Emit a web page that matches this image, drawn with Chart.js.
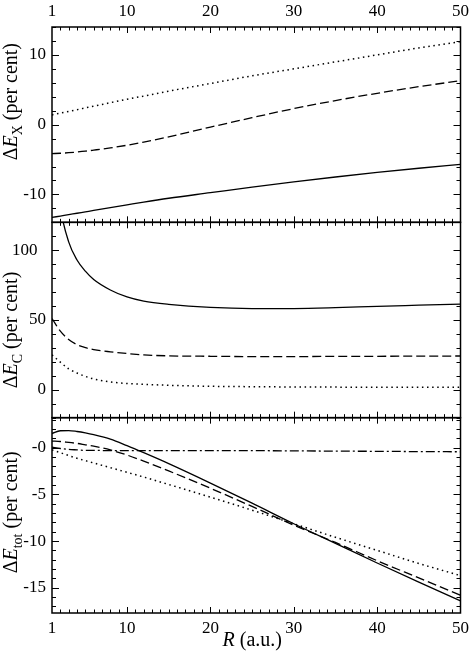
<!DOCTYPE html>
<html lang="en">
<head>
	<meta charset="UTF-8">
	<title>delta E</title>
	<script src="https://cdn.jsdelivr.net/npm/chart.js@4/dist/chart.umd.min.js"></script>
	<style>
		body{margin:0;background:#fff;}
		#c{display:block;}
	</style>
</head>
<body>
	<canvas id="c" width="474" height="660"></canvas>

	<script>

		// R grid (a.u.)
		var rGrid=[1,2,3,4,5,6,8,10,12,15,20,25,30,35,40,45,50];

		// exchange
		var exSolid=[-13.3,-13.1,-12.9,-12.7,-12.5,-12.3,-11.9,-11.5,-11.1,-10.55,-9.75,-8.95,-8.2,-7.5,-6.85,-6.25,-5.7];
		var exDashed=[-4.15,-4.1,-4.02,-3.92,-3.8,-3.65,-3.33,-2.95,-2.5,-1.75,-0.35,1.0,2.3,3.45,4.5,5.45,6.3];
		var exDotted=[1.4,1.65,1.9,2.15,2.4,2.65,3.15,3.65,4.1,4.8,5.9,7.0,8.0,9.0,10.0,11.0,11.9];

		// correlation
		var ecSolid=[185,131,106,93,85,79,71.5,66.5,63.5,61.2,59,58.2,58.2,58.8,59.8,60.6,61.4];
		var ecDashed=[51,42,36,32.3,30.2,28.8,27.2,26,25,24.3,24,23.8,23.8,23.9,24,24.1,24.2];
		var ecDotted=[25,19.8,15,12,9.6,7.8,5.6,4.5,3.9,3.2,2.5,2.2,2.0,1.9,1.8,1.8,1.8];

		// total
		var etSolid=[1.5,1.8,1.82,1.72,1.57,1.38,0.9,0.2,-0.55,-1.72,-3.8,-5.95,-8.15,-10.25,-12.35,-14.4,-16.4];
		var etDashed=[0.7,0.65,0.55,0.45,0.3,0.15,-0.25,-0.8,-1.45,-2.5,-4.35,-6.3,-8.3,-10.15,-12.1,-13.95,-15.8];
		var etDotted=[-0.25,-0.55,-0.85,-1.15,-1.4,-1.65,-2.15,-2.65,-3.15,-3.95,-5.3,-6.7,-8.15,-9.6,-11.0,-12.4,-13.7];
		var etDashDot=[0.05,-0.1,-0.2,-0.25,-0.3,-0.3,-0.33,-0.33,-0.33,-0.32,-0.32,-0.33,-0.35,-0.38,-0.4,-0.43,-0.45];

		// ticks
		var xTicks=[1,10,20,30,40,50];
		var exTicks=[-10,0,10];
		var exTickLabels=["-10","0","10"];
		var ecTicks=[0,50,100];
		var ecTickLabels=["0","50","100\u2002"];
		var etTicks=[-15,-10,-5,0];
		var etTickLabels=["-15","-10","-5","-0"];

		var SERIF='"Liberation Serif", "DejaVu Serif", serif';
		Chart.defaults.font.family=SERIF;
		Chart.defaults.font.size=17;
		Chart.defaults.color="#000";

		function pts(ys) {
			return rGrid.map(function(r,i){
				return {x:r,y:ys[i]};
			});
		}

		var styles={
			solid:{borderDash:[],borderWidth:1.3},
			dashed:{borderDash:[9,4],borderWidth:1.3},
			dotted:{borderDash:[1.5,3.6],borderWidth:1.5},
			dashdot:{borderDash:[9,3,2,3],borderWidth:1.3}
		};

		function ds(ys,axis,style) {
			return {
				data:pts(ys),
				yAxisID:axis,
				xAxisID:"x",
				borderColor:"#000",
				borderWidth:styles[style].borderWidth,
				borderDash:styles[style].borderDash,
				pointRadius:0,
				fill:false,
				cubicInterpolationMode:"monotone"
			};
		}

		function yAxis(min,max,ticks,labels,weight) {
			return {
				type:"linear",
				position:"left",
				stack:"panels",
				stackWeight:1,
				weight:weight,
				min:min,
				max:max,
				grid:{display:false,drawTicks:false},
				border:{display:false},
				ticks:{padding:6,autoSkip:false,callback:function(v){
					var i=ticks.indexOf(v);
					return i<0 ? "" : labels[i];
				}},
				afterBuildTicks:function(s){
					s.ticks=ticks.map(function(v){ return {value:v}; });
				},
				afterFit:function(s){ s.width=52; }
			};
		}

		function xAxis(pos,h) {
			return {
				type:"linear",
				position:pos,
				min:1,
				max:50,
				grid:{display:false,drawTicks:false},
				border:{display:false},
				ticks:{padding:5,maxRotation:0,autoSkip:false},
				afterBuildTicks:function(s){
					s.ticks=xTicks.map(function(v){ return {value:v}; });
				},
				afterFit:function(s){ s.height=h; }
			};
		}

		// minor / major steps per panel
		var panels=[
			{id:"yX",minor:2,major:10,sub:"X",shift:-23},
			{id:"yC",minor:10,major:50,sub:"C",shift:10},
			{id:"yT",minor:1,major:5,sub:"tot",shift:-3}
		];

		function line(ctx,x1,y1,x2,y2) {
			ctx.beginPath();
			ctx.moveTo(x1,y1);
			ctx.lineTo(x2,y2);
			ctx.stroke();
		}

		function drawPieces(ctx,pieces,cx,base) {
			var total=0;
			pieces.forEach(function(p){
				ctx.font=p.f;
				p.w=ctx.measureText(p.t).width;
				total+=p.w;
			});
			var x=cx-total/2;
			pieces.forEach(function(p){
				ctx.font=p.f;
				ctx.fillText(p.t,x,base+(p.dy||0));
				x+=p.w;
			});
		}

		var framePlugin={
			id:"frame",
			afterDraw:function(chart){
				var ctx=chart.ctx,
					xs=chart.scales.x;
				ctx.save();
				ctx.strokeStyle="#000";
				ctx.fillStyle="#000";
				panels.forEach(function(p){
					var s=chart.scales[p.id];
					var top=s.top,bot=s.bottom,left=xs.left,right=xs.right;
					ctx.lineWidth=1;
					// x ticks
					for(var v=2;v<50;v++) {
						var px=Math.round(xs.getPixelForValue(v))+0.5;
						var len=(v%10===0) ? 6 : 3.5;
						line(ctx,px,top,px,top+len);
						line(ctx,px,bot,px,bot-len);
					}
					// y ticks
					var start=Math.ceil(s.min/p.minor)*p.minor;
					for(var y=start;y<=s.max;y+=p.minor) {
						var py=Math.round(s.getPixelForValue(y))+0.5;
						var l=(Math.abs(y%p.major)<1e-9) ? 7 : 4;
						line(ctx,left,py,left+l,py);
						line(ctx,right,py,right-l,py);
					}
					ctx.lineWidth=1.5;
					ctx.strokeRect(left,top,right-left,bot-top);

					// y title
					ctx.save();
					ctx.translate(17,(top+bot)/2+p.shift);
					ctx.rotate(-Math.PI/2);
					ctx.textBaseline="alphabetic";
					drawPieces(ctx,[
						{t:"\u0394",f:"20px "+SERIF},
						{t:"E",f:"italic 20px "+SERIF},
						{t:p.sub,f:"14px "+SERIF,dy:5},
						{t:" (per cent)",f:"20px "+SERIF}
					],0,0);
					ctx.restore();
				});
				// x title
				ctx.textBaseline="alphabetic";
				drawPieces(ctx,[
					{t:"R",f:"italic 20px "+SERIF},
					{t:" (a.u.)",f:"20px "+SERIF}
				],(xs.left+xs.right)/2-4,646);
				ctx.restore();
			}
		};

		new Chart(document.getElementById("c"),{
			type:"line",
			data:{
				datasets:[
					ds(exSolid,"yX","solid"),
					ds(exDashed,"yX","dashed"),
					ds(exDotted,"yX","dotted"),
					ds(ecSolid,"yC","solid"),
					ds(ecDashed,"yC","dashed"),
					ds(ecDotted,"yC","dotted"),
					ds(etSolid,"yT","solid"),
					ds(etDashed,"yT","dashed"),
					ds(etDotted,"yT","dotted"),
					ds(etDashDot,"yT","dashdot")
				]
			},
			options:{
				responsive:false,
				animation:false,
				devicePixelRatio:1,
				layout:{padding:{left:0,right:11,top:0,bottom:0}},
				plugins:{legend:{display:false},tooltip:{enabled:false}},
				scales:{
					x:xAxis("bottom",47),
					x2:xAxis("top",27),
					yT:yAxis(-17.7,3.2,etTicks,etTickLabels,1),
					yC:yAxis(-20,120,ecTicks,ecTickLabels,2),
					yX:yAxis(-14,14,exTicks,exTickLabels,3)
				}
			},
			plugins:[framePlugin]
		});

	</script>

</body>
</html>
